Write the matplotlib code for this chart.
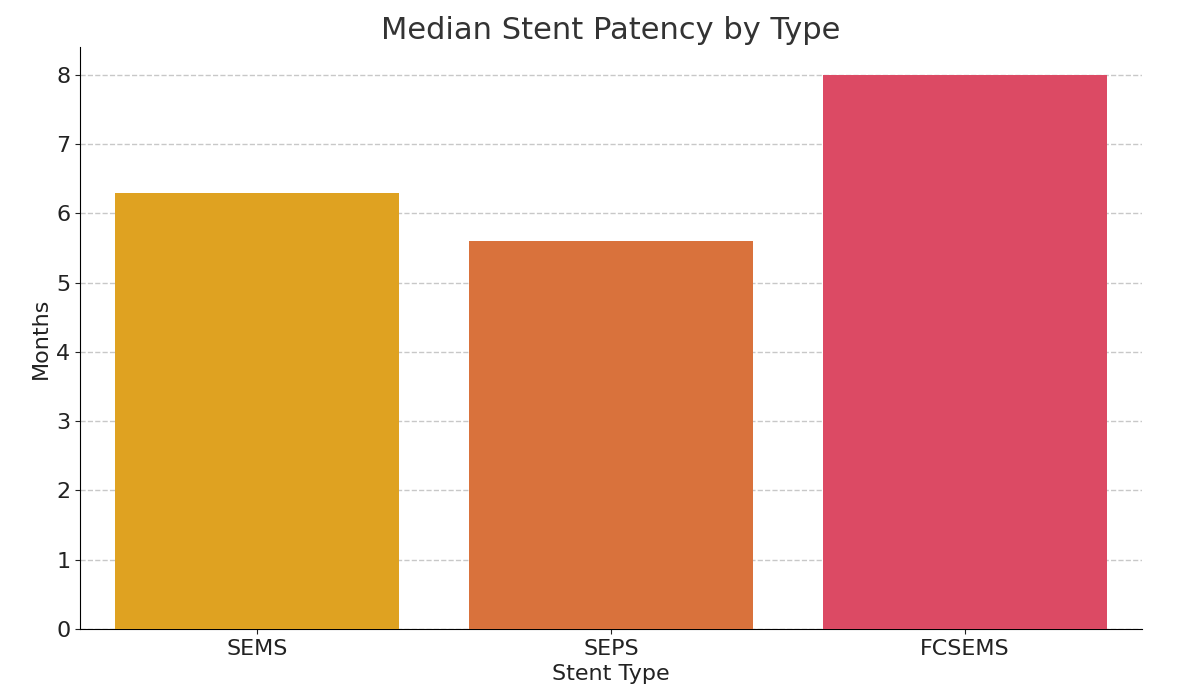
import matplotlib
matplotlib.use("Agg")
import matplotlib.pyplot as plt

categories = ["SEMS", "SEPS", "FCSEMS"]
values = [6.3, 5.6, 8.0]
colors = ["#DFA221", "#D9723C", "#DC4A64"]

fig = plt.figure(figsize=(11.79, 6.98), dpi=100)
ax = fig.add_axes([80/1179, 1-629/698, (1142-80)/1179, (629-47)/698])
ax.bar(categories, values, color=colors, width=0.8, zorder=3)
ax.set_ylim(0, 8.4)
ax.set_xlim(-0.5, 2.5)
ax.grid(axis="y", linestyle="--", color="#c8c8c8", linewidth=1, zorder=0)
ax.spines["top"].set_visible(False)
ax.spines["right"].set_visible(False)
ax.tick_params(labelsize=16, colors="#222222")
ax.set_title("Median Stent Patency by Type", fontsize=22, color="#333333", pad=6)
ax.set_xlabel("Stent Type", fontsize=16, color="#222222")
ax.set_ylabel("Months", fontsize=16, color="#222222")
fig.savefig("out.png", dpi=100)
